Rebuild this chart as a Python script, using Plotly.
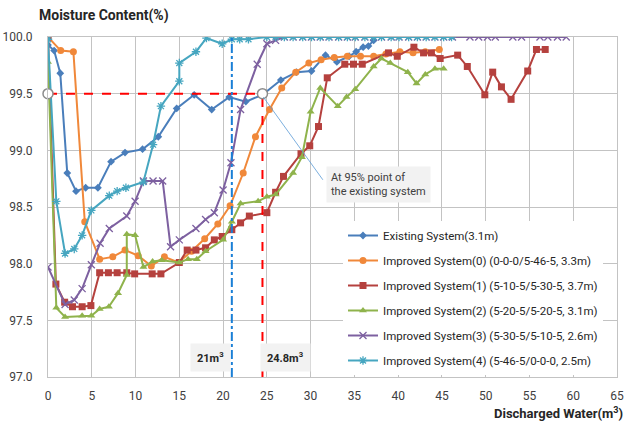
import plotly.graph_objects as go

# ---------------- data ----------------
exist_x = [0.0, 0.7, 1.4, 2.2, 3.2, 4.3, 5.7, 7.2, 8.8, 10.8, 12.6, 14.7, 16.7, 18.7, 20.7, 22.6, 24.5,
           26.6, 28.4, 30.1, 31.7, 33.0, 34.4, 35.2, 36.0, 36.6, 37.2]
exist_y = [99.93, 99.88, 99.68, 98.80, 98.64, 98.67, 98.67, 98.90, 98.98, 99.01, 99.12, 99.37, 99.49,
           99.36, 99.47, 99.43, 99.49, 99.62, 99.69, 99.70, 99.84, 99.78, 99.83, 99.87, 99.91, 99.92, 99.97]

imp0_x = [0, 1.45, 2.9, 4.2, 5.9, 7.4, 8.8, 10.3, 11.8, 13.3, 14.9, 16.4, 17.9, 19.4, 20.8, 22.3, 23.7,
          25.3, 26.7, 28.3, 29.8, 31.2, 32.7, 34.2, 35.7, 37.2, 38.6, 40.2, 41.7, 43.1, 44.7]
imp0_y = [100.0, 99.88, 99.87, 98.37, 98.04, 98.06, 98.12, 98.07, 97.98, 98.06, 98.01, 98.11, 98.22,
          98.35, 98.51, 98.80, 99.12, 99.36, 99.55, 99.69, 99.77, 99.80, 99.82, 99.83, 99.83, 99.83,
          99.85, 99.87, 99.86, 99.87, 99.89]

imp1_x = [0, 0.9, 1.9, 2.8, 3.9, 4.9, 5.9, 6.9, 7.9, 9.0, 9.9, 11.9, 12.9, 15.0, 15.9, 16.9, 18.0, 19.0,
          19.9, 21.0, 22.0, 23.0, 25.0, 26.0, 26.9, 28.9, 29.9, 30.9, 31.9, 33.9, 34.9, 35.9, 38.9, 39.9,
          41.8, 42.9, 43.8, 44.8, 46.8, 47.9, 49.9, 50.8, 51.8, 52.9, 54.8, 55.8, 56.8]
imp1_y = [100.0, 97.82, 97.66, 97.62, 97.62, 97.63, 97.92, 97.92, 97.92, 97.92, 97.91, 97.91, 97.91,
          98.01, 98.12, 98.12, 98.14, 98.21, 98.24, 98.30, 98.36, 98.42, 98.45, 98.63, 98.77, 98.97,
          99.04, 99.21, 99.64, 99.76, 99.76, 99.76, 99.86, 99.83, 99.91, 99.86, 99.86, 99.81, 99.84,
          99.74, 99.49, 99.69, 99.56, 99.45, 99.70, 99.89, 99.89]

imp2_x = [0, 0.95, 1.95, 3.9, 4.95, 5.9, 6.95, 8.0, 9.0, 9.0, 9.95, 10.9, 11.95, 13.0, 15.0, 16.0, 17.0,
          18.0, 20.0, 21.0, 22.0, 24.0, 25.0, 26.0, 28.0, 29.0, 30.0, 31.1, 33.1, 34.1, 35.1, 37.2, 38.1,
          39.1, 41.1, 42.1, 43.1, 44.2, 45.2]
imp2_y = [99.78, 97.61, 97.53, 97.54, 97.54, 97.60, 97.62, 97.74, 97.90, 98.26, 98.25, 97.97, 98.02,
          98.03, 98.01, 98.04, 98.04, 98.11, 98.21, 98.37, 98.53, 98.55, 98.59, 98.61, 98.80, 98.94,
          99.34, 99.55, 99.39, 99.47, 99.54, 99.74, 99.81, 99.77, 99.69, 99.59, 99.67, 99.72, 99.72]

imp3_x = [0, 1.95, 3.0, 3.9, 4.95, 5.95, 7.0, 9.0, 9.95, 10.9, 12.0, 13.1, 14.0, 15.0, 16.9, 18.0, 19.0,
          20.0, 20.9, 22.0, 23.9, 25.0, 26.0, 27.0, 28.0, 29.1, 30.1, 31.1, 32.1, 33.2, 34.2, 35.1, 36.2,
          37.2, 38.1, 39.2, 40.1, 41.2, 42.2, 43.2, 44.2, 45.2, 46.2, 48.2, 49.2, 50.2, 51.1, 53.1, 54.1,
          56.2, 57.1, 58.2, 59.2]
imp3_y = [97.97, 97.64, 97.68, 97.78, 97.99, 98.18, 98.31, 98.42, 98.55, 98.73, 98.73, 98.73, 98.15,
          98.21, 98.31, 98.39, 98.45, 98.65, 98.89, 99.36, 99.76, 99.94, 99.97, 100.0, 100.0, 100.0,
          100.0, 100.0, 100.0, 100.0, 100.0, 100.0, 100.0, 100.0, 100.0, 100.0, 100.0, 100.0, 100.0,
          100.0, 100.0, 100.0, 100.0, 100.0, 100.0, 100.0, 100.0, 100.0, 100.0, 100.0, 100.0, 100.0, 100.0]

imp4_x = [0, 0.95, 1.95, 3.0, 3.9, 4.95, 7.0, 7.9, 8.9, 10.9, 12.0, 12.9, 15.0, 15.0, 16.9, 18.1, 19.9,
          21.0, 21.9, 22.9, 25.0, 26.0, 27.0, 28.0, 29.1, 30.1, 31.1, 32.1, 33.2, 34.2, 35.1, 36.2, 37.2,
          38.1, 39.2, 40.1, 41.2, 42.2, 43.2, 44.2, 45.2, 46.1]
imp4_y = [99.98, 98.55, 98.09, 98.13, 98.25, 98.47, 98.60, 98.64, 98.67, 98.72, 99.05, 99.39, 99.61,
          99.77, 99.87, 99.99, 99.94, 99.98, 99.98, 99.98, 100.0, 100.0, 100.0, 100.0, 100.0, 100.0,
          100.0, 100.0, 100.0, 100.0, 100.0, 100.0, 100.0, 100.0, 100.0, 100.0, 100.0, 100.0, 100.0,
          100.0, 100.0, 100.0]

series_names = ["Existing System(3.1m)",
                "Improved System(0) (0-0-0/5-46-5, 3.3m)",
                "Improved System(1) (5-10-5/5-30-5, 3.7m)",
                "Improved System(2) (5-20-5/5-20-5, 3.1m)",
                "Improved System(3) (5-30-5/5-10-5, 2.6m)",
                "Improved System(4) (5-46-5/0-0-0, 2.5m)"]

# reference markers
level_95 = 99.5
water_95 = 24.5
water_line_21 = 21.0
label_21 = "21m<sup>3</sup>"
label_248 = "24.8m<sup>3</sup>"

y_ticks = [97.0, 97.5, 98.0, 98.5, 99.0, 99.5, 100.0]
x_ticks = list(range(0, 70, 5))

# ---------------- styles ----------------
colors = ["#4a7ebb", "#f0883a", "#b5413e", "#8fb34c", "#7d60a0", "#46a6c0"]
symbols = ["diamond", "circle", "square", "triangle-up", "x-thin-open", "asterisk-open"]
sizes = [6, 7, 7, 7, 7, 7]

fig = go.Figure()

all_x = [exist_x, imp0_x, imp1_x, imp2_x, imp3_x, imp4_x]
all_y = [exist_y, imp0_y, imp1_y, imp2_y, imp3_y, imp4_y]
for i in range(6):
    mk = dict(symbol=symbols[i], size=sizes[i], color=colors[i])
    if "open" in symbols[i]:
        mk["line"] = dict(color=colors[i], width=1.3)
    fig.add_trace(go.Scatter(x=all_x[i], y=all_y[i], mode="lines+markers", name=series_names[i],
                             legendgroup="g%d" % i,
                             line=dict(color=colors[i], width=2), marker=mk))

# reference lines
fig.add_trace(go.Scatter(x=[0, water_95], y=[level_95, level_95], mode="lines",
                         line=dict(color="#ff0000", width=2, dash="dash"), showlegend=False))
fig.add_trace(go.Scatter(x=[water_95, water_95], y=[97.0, level_95], mode="lines",
                         line=dict(color="#ff0000", width=2, dash="dash"), showlegend=False))
fig.add_trace(go.Scatter(x=[water_line_21, water_line_21], y=[97.0, 100.0], mode="lines",
                         line=dict(color="#1a7fd6", width=2, dash="dashdot"), showlegend=False))
fig.add_trace(go.Scatter(x=[0, water_95], y=[level_95, level_95], mode="markers",
                         marker=dict(symbol="circle", size=10, color="white",
                                     line=dict(color="#8c8c8c", width=1.5)),
                         showlegend=False, cliponaxis=False))

# callout line
fig.add_shape(type="line", x0=water_95 + 0.1, y0=level_95 - 0.03, x1=31.4, y1=98.74,
              xref="x", yref="y", line=dict(color="#5b9bd5", width=0.8))

font_main = "Roboto, 'Open Sans', sans-serif"

fig.add_annotation(x=37.8, y=98.70, xref="x", yref="y", showarrow=False,
                   text="At 95% point of<br>the existing system", align="left",
                   font=dict(family=font_main, size=11, color="#404040"),
                   bgcolor="#f2f2f2", borderpad=4)
fig.add_annotation(x=18.55, y=97.17, xref="x", yref="y", showarrow=False,
                   text="<b>" + label_21 + "</b>",
                   font=dict(family=font_main, size=11, color="#262626"),
                   bgcolor="#f2f2f2", borderpad=6)
fig.add_annotation(x=27.1, y=97.17, xref="x", yref="y", showarrow=False,
                   text="<b>" + label_248 + "</b>",
                   font=dict(family=font_main, size=11, color="#262626"),
                   bgcolor="#f2f2f2", borderpad=6)

# axis titles (pixel positions converted to paper below)
fig.add_annotation(x=37, y=15, xref="paper", yref="paper", showarrow=False,
                   text="<b>Moisture Content(%)</b>", xanchor="left", yanchor="middle",
                   font=dict(family=font_main, size=14, color="#262626"))
fig.add_annotation(x=625, y=413, xref="paper", yref="paper", showarrow=False,
                   text="<b>Discharged Water(m<sup>3</sup>)</b>", xanchor="right", yanchor="middle",
                   font=dict(family=font_main, size=13, color="#262626"))

W, H = 627, 428
ML, MR, MT, MB = 48, 10, 37, 51
pw, ph = W - ML - MR, H - MT - MB
for ann in fig.layout.annotations:
    if ann.xref == "paper":
        ann.x = (ann.x - ML) / pw
        ann.y = 1 - (ann.y - MT) / ph

fig.update_layout(
    width=W, height=H,
    margin=dict(l=ML, r=MR, t=MT, b=MB, autoexpand=False),
    plot_bgcolor="white", paper_bgcolor="white",
    font=dict(family=font_main, size=12, color="#404040"),
    legend=dict(x=(343 - ML) / pw, y=1 - (221 - MT) / ph, xanchor="left", yanchor="top",
                bgcolor="white", itemwidth=30, tracegroupgap=6,
                font=dict(family=font_main, size=11.5, color="#262626")),
    xaxis=dict(range=[0, 65], tickvals=x_ticks, showgrid=True, gridcolor="#c3c3c3", gridwidth=1,
               zeroline=False, showline=True, linecolor="#c3c3c3", mirror=True, automargin=False,
               ticklabelstandoff=8, tickfont=dict(size=12, color="#404040")),
    yaxis=dict(range=[97, 100], tickvals=y_ticks, tickformat=".1f", showgrid=True,
               gridcolor="#c3c3c3", gridwidth=1, zeroline=False, showline=True, automargin=False,
               linecolor="#c3c3c3", mirror=True, ticklabelstandoff=12,
               tickfont=dict(size=12, color="#404040")),
)

fig.write_html("out.html", config={"displayModeBar": False},
               post_script="document.body.style.margin='0';document.body.style.padding='0';")
